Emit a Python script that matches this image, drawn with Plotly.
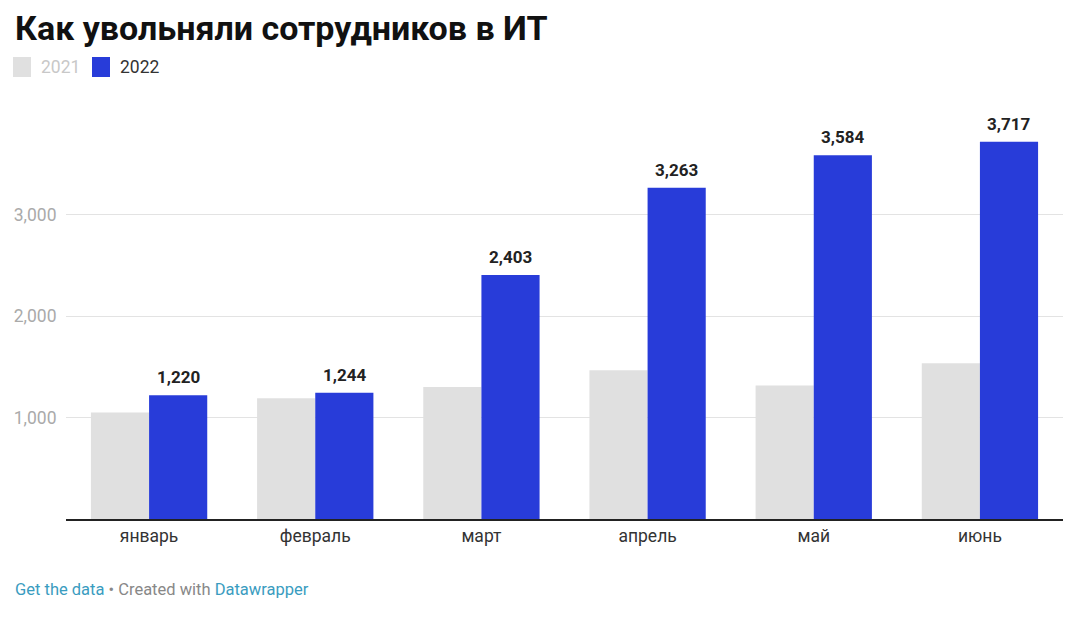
import plotly.graph_objects as go

months = ["январь", "февраль", "март", "апрель", "май", "июнь"]
series_names = ["2021", "2022"]
values_2021 = [1050, 1190, 1300, 1465, 1315, 1535]
values_2022 = [1220, 1244, 2403, 3263, 3584, 3717]
y_ticks = [1000, 2000, 3000]
title_text = "Как увольняли сотрудников в ИТ"

OFF = 8  # page body margin
W, H = 1076, 624
# target screen coords of plot area
SL, SR, ST, SB = 66, 1063, 100, 519
L = SL - OFF
T = ST - OFF
R = W - (SR - OFF)
B = H - (SB - OFF)
pw, ph = W - L - R, H - T - B


def px(x):
    return (x - OFF - L) / pw


def py(y):
    return (H - B - (y - OFF)) / ph


c21 = "#E0E0E0"
c22 = "#283CD9"
FONT = "Roboto"

fig = go.Figure()
fig.add_trace(go.Bar(x=months, y=values_2021, name=series_names[0], marker_color=c21,
                     marker_line_width=0, hoverinfo="x+y"))
fig.add_trace(go.Bar(x=months, y=values_2022, name=series_names[1], marker_color=c22,
                     marker_line_width=0, hoverinfo="x+y"))

fig.update_layout(
    width=W, height=H,
    margin=dict(l=L, r=R, t=T, b=B, autoexpand=False),
    paper_bgcolor="white", plot_bgcolor="white",
    barmode="group", bargap=0.30, bargroupgap=0,
    showlegend=False,
    font=dict(family=FONT, size=17.5, color="#333333"),
    xaxis=dict(showgrid=False, showline=True, linecolor="#222222", linewidth=1.5,
               ticks="", tickfont=dict(size=17.5, color="#333333"), fixedrange=True,
               automargin=False),
    yaxis=dict(range=[0, ph / 101.5 * 1000], tickvals=y_ticks, tickformat=",",
               showgrid=True, gridcolor="#E3E3E3", gridwidth=1, zeroline=False,
               showline=False, ticks="outside", ticklen=5, tickcolor="rgba(0,0,0,0)",
               tickfont=dict(size=17.5, color="#AAAAAA"), fixedrange=True,
               automargin=False),
)

# title as annotation (paper coords)
fig.add_annotation(xref="paper", yref="paper", x=px(13), y=py(28),
                   xanchor="left", yanchor="middle", showarrow=False,
                   text=f"<b>{title_text}</b>",
                   font=dict(family=FONT, size=34, color="#111111"))

# value labels above 2022 bars (offset to the right bar of each group)
group_px = pw / len(months)
bar_px = group_px * (1 - 0.30) / 2
for m, v in zip(months, values_2022):
    fig.add_annotation(x=m, y=v, xref="x", yref="y", xshift=bar_px / 2, yshift=6,
                       yanchor="bottom", xanchor="center", showarrow=False,
                       text=f"<b>{v:,}</b>",
                       font=dict(family=FONT, size=17, color="#222222"))

# legend
leg = [(13, series_names[0], c21, "#C8C8C8"), (92, series_names[1], c22, "#333333")]
for x0, name, col, tcol in leg:
    fig.add_shape(type="rect", xref="paper", yref="paper",
                  x0=px(x0), x1=px(x0 + 18), y0=py(77), y1=py(57),
                  fillcolor=col, line_width=0)
    fig.add_annotation(xref="paper", yref="paper", x=px(x0 + 26), y=py(67),
                       xanchor="left", yanchor="middle", showarrow=False,
                       text=name, font=dict(family=FONT, size=17.5, color=tcol))

fig.add_annotation(xref="paper", yref="paper", x=px(13), y=py(589),
                   xanchor="left", yanchor="middle", showarrow=False,
                   text="<span style='color:#3A9CC0'>Get the data</span>"
                        "<span style='color:#888888'> • Created with </span>"
                        "<span style='color:#3A9CC0'>Datawrapper</span>",
                   font=dict(family=FONT, size=16.5))

fig.write_html("out.html")
